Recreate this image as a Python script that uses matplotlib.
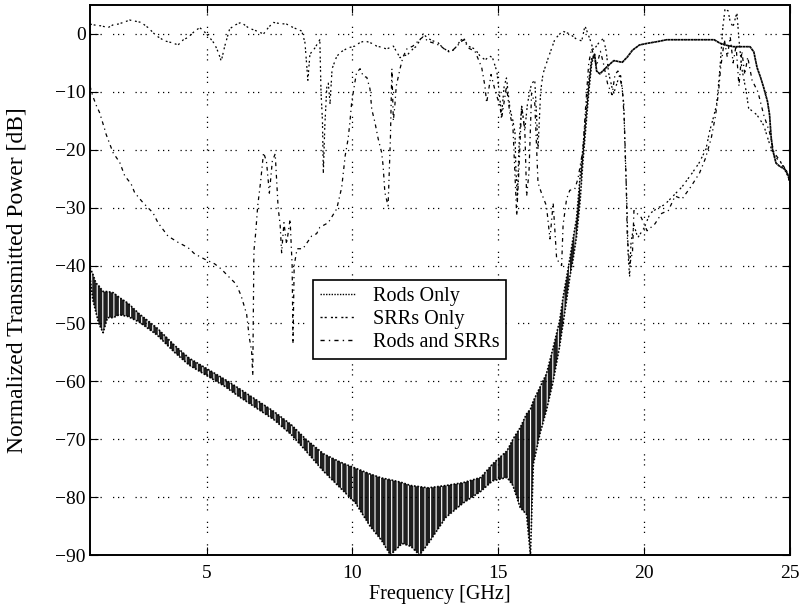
import matplotlib
matplotlib.use('Agg')
import matplotlib.pyplot as plt
from matplotlib.lines import Line2D

plt.rcParams['font.family'] = ['Liberation Serif', 'DejaVu Serif']
plt.rcParams['hatch.linewidth'] = 0.8

# Rods only: the curve ripples fast below the cut-off, read here as an upper / lower envelope
rods_f = [1.0, 1.1, 1.2, 1.3, 1.45, 1.6, 1.8, 2.0, 2.3, 2.7, 3.3, 3.9, 4.4, 5.0, 5.6,
          6.1, 6.7, 7.3, 7.9, 8.4, 9.0, 9.6, 10.1, 10.6, 11.0, 11.3, 11.7, 12.0, 12.3,
          12.6, 13.2, 13.8, 14.4, 14.8, 15.3, 15.5, 15.75, 15.97, 16.1, 16.2, 16.43,
          16.65, 16.88, 17.1, 17.22, 17.34, 17.45, 17.56, 17.68, 17.8, 17.9, 18.0,
          18.1, 18.2, 18.3, 18.37, 18.48, 18.72, 18.96, 19.25, 19.42, 19.6, 19.84,
          20.13, 20.48, 20.77, 22.4, 22.6, 22.77, 23.05, 23.63, 23.76, 23.87, 23.99,
          24.1, 24.23, 24.3, 24.35, 24.4, 24.52, 24.63, 24.86, 25.0]
rods_hi = [-40.4, -41.5, -43.0, -43.5, -44.5, -44.5, -44.7, -45.5, -46.5, -48.4, -50.8,
           -53.8, -56.0, -57.8, -59.6, -61.2, -63.2, -65.2, -67.5, -70.0, -72.5, -74.0,
           -75.0, -76.0, -76.7, -77.0, -77.5, -78.0, -78.2, -78.4, -78.0, -77.5, -76.6,
           -74.3, -72.0, -70.0, -68.0, -65.6, -64.8, -63.4, -61.0, -58.7, -54.2, -49.6,
           -45.5, -42.1, -38.9, -35.4, -32.0, -25.0, -20.0, -14.0, -8.4, -4.3, -3.5,
           -6.4, -6.9, -5.7, -4.6, -4.9, -4.0, -2.8, -1.9, -1.6, -1.3, -1.0, -1.0, -1.6,
           -1.9, -2.2, -2.2, -3.1, -5.8, -7.5, -9.3, -11.7, -14.0, -17.6, -19.9, -22.3,
           -22.8, -23.5, -25.2]
rods_lo = [-42.0, -46.0, -48.0, -50.0, -51.6, -49.0, -49.0, -48.5, -48.8, -49.8, -52.0,
           -55.0, -57.2, -59.0, -60.8, -62.6, -64.6, -66.6, -69.2, -72.0, -75.5, -78.5,
           -81.0, -85.0, -87.5, -90.0, -88.0, -88.5, -90.0, -88.0, -83.5, -81.0, -79.0,
           -77.2, -76.6, -78.0, -81.8, -83.0, -90.0, -74.3, -69.0, -65.0, -60.0, -54.0,
           -50.0, -46.0, -42.0, -39.0, -35.0, -29.0, -22.0, -16.0, -10.0, -5.0, -3.5,
           -6.4, -6.9, -5.7, -4.6, -4.9, -4.0, -2.8, -1.9, -1.6, -1.3, -1.0, -1.0, -1.6,
           -1.9, -2.2, -2.2, -3.1, -5.8, -7.5, -9.3, -11.7, -14.0, -17.6, -19.9, -22.3,
           -22.8, -23.5, -25.2]

# SRRs only
srr_f = [1.0, 1.2, 1.38, 1.62, 1.8, 1.96, 2.15, 2.36, 2.55, 2.75, 2.99, 3.27, 3.56, 3.8,
         4.02, 4.2, 4.36, 4.55, 4.76, 4.9, 5.05, 5.27, 5.4, 5.5, 5.62, 5.79, 6.0, 6.18,
         6.45, 6.72, 6.95, 7.1, 7.28, 7.5, 7.74, 7.97, 8.26, 8.37, 8.47, 8.54, 8.7, 8.88,
         8.92, 8.97, 9.0, 9.05, 9.12, 9.17, 9.23, 9.3, 9.45, 9.57, 9.85, 10.08, 10.25,
         10.43, 10.65, 10.83, 11.0, 11.17, 11.4, 11.63, 11.9, 12.07, 12.2, 12.42, 12.6,
         12.76, 12.93, 13.1, 13.34, 13.5, 13.65, 13.8, 13.96, 14.2, 14.37, 14.55, 14.7,
         14.8, 14.95, 15.06, 15.11, 15.2, 15.28, 15.4, 15.5, 15.57, 15.6, 15.65, 15.72,
         15.8, 15.91, 16.0, 16.14, 16.25, 16.31, 16.36, 16.45, 16.53, 16.7, 16.94, 17.2,
         17.45, 17.68, 17.86, 17.97, 18.14, 18.26, 18.45, 18.6, 18.7, 18.78, 18.9, 18.96,
         19.1, 19.19, 19.3, 19.35, 19.4, 19.45, 19.5, 19.55, 19.65, 19.78, 20.0, 20.2,
         20.48, 20.7, 20.95, 21.3, 21.65, 21.88, 22.12, 22.24, 22.36, 22.48, 22.54, 22.6,
         22.65, 22.7, 22.77, 22.88, 22.95, 23.05, 23.18, 23.25, 23.35, 23.5, 23.58,
         23.75, 23.87, 24.1, 24.3, 24.45, 24.7, 24.93, 25.0]
srr_db = [1.7, 1.5, 1.4, 1.1, 1.6, 1.7, 2.0, 2.4, 2.2, 2.0, 1.1, -0.3, -1.2, -1.5, -1.9,
          -1.0, -0.6, 0.3, 1.1, 0.5, -0.3, -1.7, -3.2, -4.7, -2.1, 0.9, 1.6, 2.0, 1.0,
          0.5, 0.0, 1.0, 2.0, 1.8, 1.7, 1.1, 0.5, -1.5, -8.0, -3.5, -2.5, -1.0, -10.0,
          -15.0, -24.0, -16.0, -9.0, -8.5, -12.0, -6.0, -4.0, -3.2, -2.4, -2.1, -1.5,
          -1.2, -1.6, -2.1, -2.3, -2.6, -2.1, -4.1, -3.5, -2.6, -2.1, 0.0, -0.8, -1.2,
          -1.5, -2.4, -3.2, -2.6, -1.5, -0.6, -2.1, -2.6, -3.8, -4.5, -3.8, -4.1, -6.5,
          -11.5, -14.0, -9.0, -7.6, -13.0, -15.0, -17.0, -23.0, -28.5, -18.0, -12.5,
          -16.5, -12.0, -8.5, -8.1, -14.0, -20.0, -10.0, -6.9, -4.3, -0.9, 0.5, 0.0,
          -0.9, -1.2, 1.4, -0.9, -2.8, -1.5, -0.8, -3.0, -6.7, -9.3, -10.2, -8.0, -7.0,
          -12.0, -21.0, -28.0, -38.0, -42.0, -36.0, -33.0, -35.2, -33.5, -31.0, -30.0,
          -29.5, -28.2, -26.4, -24.0, -22.3, -19.9, -16.9, -14.7, -12.3, -9.3, -5.8,
          -2.3, 1.3, 4.2, 4.0, 2.0, 1.3, 3.7, -1.0, -6.0, -10.0, -12.8, -13.5, -14.0,
          -15.8, -19.0, -21.0, -22.3, -24.6, -26.0]

# Rods and SRRs
both_f = [1.0, 1.1, 1.22, 1.33, 1.5, 1.55, 1.72, 1.79, 2.02, 2.19, 2.41, 2.53, 2.81, 3.16,
          3.33, 3.67, 4.02, 4.36, 4.59, 4.93, 5.27, 5.5, 5.73, 6.01, 6.18, 6.25, 6.37,
          6.46, 6.54, 6.58, 6.62, 6.68, 6.75, 6.85, 6.95, 7.05, 7.15, 7.25, 7.35, 7.45,
          7.52, 7.57, 7.65, 7.74, 7.86, 7.93, 7.96, 8.0, 8.1, 8.3, 8.45, 8.6, 8.77, 8.88,
          9.17, 9.46, 9.63, 9.75, 9.85, 9.91, 9.97, 10.08, 10.14, 10.26, 10.37, 10.49,
          10.6, 10.66, 10.77, 10.88, 11.0, 11.05, 11.11, 11.22, 11.3, 11.35, 11.4, 11.45,
          11.5, 11.63, 11.73, 11.86, 12.07, 12.3, 12.42, 12.6, 12.8, 13.0, 13.2, 13.4,
          13.6, 13.8, 14.0, 14.2, 14.43, 14.54, 14.6, 14.75, 14.9, 15.06, 15.11, 15.28,
          15.4, 15.5, 15.63, 15.7, 15.8, 15.91, 15.97, 16.05, 16.14, 16.25, 16.36, 16.48,
          16.65, 16.77, 16.88, 17.0, 17.17, 17.22, 17.34, 17.45, 17.62, 17.73, 17.9, 18.0,
          18.1, 18.2, 18.37, 18.5, 18.6, 18.75, 18.9, 19.0, 19.1, 19.25, 19.32, 19.38,
          19.42, 19.5, 19.6, 19.65, 19.9, 20.1, 20.37, 20.6, 20.83, 21.06, 21.3, 21.6,
          21.9, 22.1, 22.3, 22.45, 22.55, 22.62, 22.7, 22.75, 22.85, 22.95, 23.05, 23.15,
          23.25, 23.35, 23.45, 23.55, 23.7, 23.9, 24.1, 24.3, 24.45, 24.6, 24.8, 25.0]
both_db = [-9.0, -10.8, -12.4, -13.6, -16.4, -17.3, -19.6, -20.5, -22.2, -24.5, -25.9,
           -27.4, -29.1, -30.9, -32.6, -34.9, -36.0, -36.9, -38.0, -38.9, -39.7, -40.6,
           -41.8, -43.2, -45.2, -46.4, -48.4, -52.4, -54.7, -59.0, -37.5, -34.4, -29.7,
           -25.5, -20.5, -22.0, -27.5, -22.0, -20.7, -30.0, -33.0, -37.8, -32.6, -36.3,
           -32.0, -40.0, -53.5, -40.0, -37.1, -37.1, -36.0, -34.9, -34.5, -33.4, -32.6,
           -30.2, -26.5, -21.0, -18.1, -15.3, -11.9, -8.4, -6.7, -6.0, -7.3, -7.5, -9.5,
           -13.0, -15.3, -18.1, -20.5, -22.8, -27.4, -29.7, -18.0, -6.0, -15.0, -12.5,
           -9.0, -6.0, -4.0, -2.6, -2.1, -1.0, -0.5, -1.3, -1.6, -2.0, -2.8, -3.0, -2.0,
           -1.0, -2.5, -3.0, -5.8, -9.0, -11.9, -7.0, -10.0, -12.5, -14.7, -9.0, -14.0,
           -16.0, -31.4, -24.0, -12.4, -17.0, -28.0, -24.0, -10.2, -12.0, -25.7, -27.5,
           -29.7, -35.4, -29.2, -38.9, -40.0, -33.0, -28.5, -27.0, -26.8, -25.0, -20.0,
           -12.0, -5.0, -2.5, -5.5, -3.0, -5.0, -8.7, -10.5, -7.0, -6.4, -9.3, -15.0,
           -25.0, -35.0, -40.0, -37.6, -30.5, -31.7, -34.0, -32.8, -31.0, -30.5, -28.0,
           -28.5, -26.4, -24.0, -21.5, -18.0, -14.0, -10.0, -6.0, -3.0, -1.0, -4.0, -0.5,
           -5.0, -2.0, -9.0, -3.0, -7.0, -4.0, -8.0, -10.0, -14.0, -17.0, -20.5, -21.5,
           -23.0, -25.5]

x_ticks = [5, 10, 15, 20, 25]
y_ticks = [0, -10, -20, -30, -40, -50, -60, -70, -80, -90]

rods_style = (0, (1, 1))
srr_style = (0, (1.5, 1.5, 1.5, 3))
both_style = (0, (3, 3, 1, 3))

fig = plt.figure(figsize=(7.99, 6.09), dpi=100)
ax = fig.add_axes([90 / 799, 1 - 555 / 609, 700 / 799, 550 / 609])

# ripple band of the rods curve
ax.fill_between(rods_f, rods_lo, rods_hi, facecolor='0.12', edgecolor='white',
                hatch='|||', linewidth=0)
ax.plot(rods_f, rods_hi, color='black', linestyle=rods_style, linewidth=1.2)
ax.plot(rods_f, rods_lo, color='black', linestyle=rods_style, linewidth=1.2)
ax.plot(srr_f, srr_db, color='black', linestyle=srr_style, linewidth=0.9)
ax.plot(both_f, both_db, color='black', linestyle=both_style, linewidth=0.9)

ax.set_xlim(1, 25)
ax.set_ylim(-90, 5)
ax.set_xticks(x_ticks)
ax.set_yticks(y_ticks)
ax.tick_params(direction='in', length=6, top=True, right=True, labelsize=14)
ax.tick_params(axis='x', pad=7)
ax.tick_params(axis='y', pad=3)
ax.grid(True, color='black', linestyle=(0, (1, 3, 1, 3, 1, 9)), linewidth=0.9)
for s in ax.spines.values():
    s.set_linestyle((0, (1, 1)))
    s.set_linewidth(1.4)

ax.set_xlabel('Frequency [GHz]', fontsize=14.5, labelpad=2)
ax.set_ylabel('Normalized Transmitted Power [dB]', fontsize=17)
ax.yaxis.set_label_coords(-0.089, 0.5)

handles = [Line2D([], [], color='black', linestyle=rods_style, linewidth=1.0),
           Line2D([], [], color='black', linestyle=srr_style, linewidth=1.0),
           Line2D([], [], color='black', linestyle=both_style, linewidth=1.0)]
leg = ax.legend(handles, ['Rods Only', 'SRRs Only', 'Rods and SRRs'],
                loc='upper left', bbox_to_anchor=(0.319, 0.5), fontsize=14.5,
                fancybox=False, framealpha=1, edgecolor='black',
                handlelength=1.7, handletextpad=0.9, labelspacing=0.2,
                borderpad=0.35, borderaxespad=0)
leg.get_frame().set_linewidth(1.2)

fig.savefig('out.png', dpi=100)
